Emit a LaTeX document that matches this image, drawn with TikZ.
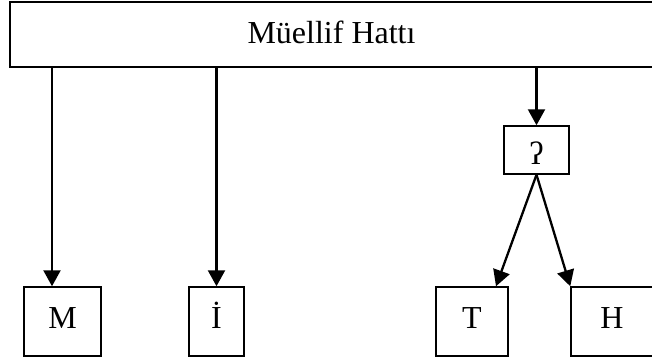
\documentclass[tikz,border=0pt]{standalone}
\usepackage{fontspec}
\setmainfont{Liberation Serif}
\usetikzlibrary{arrows.meta,calc}
\begin{document}
\begin{tikzpicture}[x=1pt,y=-1pt,
  box/.style={draw,line width=1.5pt,inner sep=0pt,font=\fontsize{32}{36}\selectfont,text height=20pt,text depth=7pt},
  arr/.style={line width=2.3pt,-{Triangle[length=16pt,width=17pt]}}]
\useasboundingbox (0,0) rectangle (652,359);
\clip (0,0) rectangle (652,359);
\node[box,minimum width=643pt,minimum height=65pt,text height=20pt,text depth=3pt] (main) at (331.5,34.5) {Müellif Hattı};
\node[box,minimum width=77pt,minimum height=69pt] (M) at (62.5,321.5) {M};
\node[box,minimum width=55pt,minimum height=69pt] (I) at (216.5,321.5) {İ};
\node[box,minimum width=72pt,minimum height=69pt] (T) at (472,321.5) {T};
\node[box,minimum width=82pt,minimum height=69pt] (H) at (612,321.5) {H};
\node[box,minimum width=65pt,minimum height=48pt,font=\fontsize{32}{36}\selectfont,text height=28pt,text depth=0pt] (Q) at (536.5,150) {ʔ};
\coordinate (a1) at ($(M.north)+(-10.5,0)$);
\coordinate (a4) at ($(T.north)+(24,0)$);
\draw[arr] (main.south -| a1) -- (a1);
\draw[arr] (main.south -| I.north) -- (I.north);
\draw[arr] (main.south -| Q.north) -- (Q.north);
\draw[arr] (Q.south) -- (a4);
\draw[arr] (Q.south) -- (H.north west);
\end{tikzpicture}
\end{document}
